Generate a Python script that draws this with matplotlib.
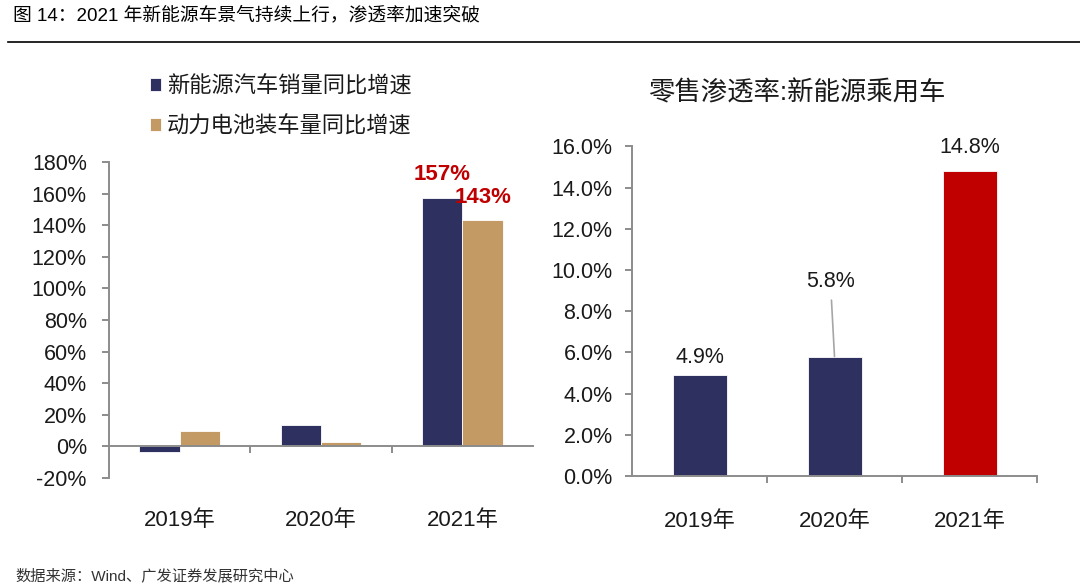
import matplotlib
matplotlib.use("Agg")
import matplotlib.pyplot as plt
from matplotlib.ticker import FixedLocator, FuncFormatter
import numpy as np

plt.rcParams['font.family'] = ['Liberation Sans', 'Noto Sans CJK SC', 'DejaVu Sans']

# ---------------- data ----------------
years = ['2019年', '2020年', '2021年']
nev_sales_yoy = [-3.8, 13.3, 157.0]        # 新能源汽车销量同比增速 (%)
battery_yoy = [9.5, 3.0, 143.0]            # 动力电池装车量同比增速 (%)
left_labels = ['157%', '143%']
penetration = [4.9, 5.8, 14.8]              # 零售渗透率 (%)
pen_labels = ['4.9%', '5.8%', '14.8%']
left_yticks = [-20, 0, 20, 40, 60, 80, 100, 120, 140, 160, 180]
right_yticks = [0, 2, 4, 6, 8, 10, 12, 14, 16]

NAVY = '#2E3160'
TAN = '#C49A64'
RED = '#C00000'
GRAY = '#8C8C8C'
TXT = '#1A1A1A'

fig = plt.figure(figsize=(10.8, 5.84), dpi=100)

# header
fig.text(13/1080, 1 - 15/584, '图 14：2021 年新能源车景气持续上行，渗透率加速突破',
         fontsize=13.5, color='black', va='center', ha='left')
fig.add_artist(plt.Line2D([8/1080, 1.0], [1 - 42/584, 1 - 42/584], color='black', lw=1.2))
fig.text(15/1080, 1 - 576/584, '数据来源：Wind、广发证券发展研究中心',
         fontsize=11, color='#333333', va='center', ha='left')

# ---------------- left chart ----------------
ax1 = fig.add_axes([109/1080, 106/584, 424/1080, 316/584])
x = np.arange(len(years))
bw = 0.285
ax1.bar(x - bw/2, nev_sales_yoy, bw, color=NAVY, edgecolor='white', linewidth=0.6,
        label='新能源汽车销量同比增速')
ax1.bar(x + bw/2, battery_yoy, bw, color=TAN, edgecolor='white', linewidth=0.6,
        label='动力电池装车量同比增速')
ax1.set_xlim(-0.5, 2.5)
ax1.set_ylim(-20, 180)
ax1.yaxis.set_major_locator(FixedLocator(left_yticks))
ax1.yaxis.set_major_formatter(FuncFormatter(lambda v, p: f'{v:.0f}%'))
for s in ['top', 'right']:
    ax1.spines[s].set_visible(False)
ax1.spines['left'].set_color(GRAY)
ax1.spines['left'].set_linewidth(1.4)
ax1.spines['bottom'].set_position(('data', 0))
ax1.spines['bottom'].set_color(GRAY)
ax1.spines['bottom'].set_linewidth(1.4)
ax1.set_xticks(x)
ax1.set_xticklabels(years)
ax1.set_xticks([0.5, 1.5], minor=True)
ax1.tick_params(axis='x', which='major', length=0, pad=46, labelsize=16, labelcolor=TXT)
ax1.tick_params(axis='x', which='minor', length=5, width=1.4, color=GRAY, direction='out')
ax1.tick_params(axis='y', length=5, width=1.4, color=GRAY, labelsize=15.5, labelcolor=TXT, pad=11)
ax1.text(1.86, 172, left_labels[0], color=RED, fontsize=16, fontweight='bold', ha='center', va='center')
ax1.text(2.15, 157.5, left_labels[1], color=RED, fontsize=16, fontweight='bold', ha='center', va='center')

leg = fig.legend(handles=ax1.containers, labels=['新能源汽车销量同比增速', '动力电池装车量同比增速'],
                 loc='upper left', bbox_to_anchor=(130/1080, 1 - 56/584), frameon=False,
                 fontsize=16, handlelength=0.5, handleheight=0.5, handletextpad=0.25,
                 labelspacing=0.85, labelcolor=TXT)

# ---------------- right chart ----------------
ax2 = fig.add_axes([632/1080, 108/584, 405/1080, 329.6/584])
colors = [NAVY, NAVY, RED]
ax2.bar(x, penetration, 0.4, color=colors, edgecolor='white', linewidth=0.6)
ax2.set_xlim(-0.5, 2.5)
ax2.set_ylim(0, 16)
ax2.yaxis.set_major_locator(FixedLocator(right_yticks))
ax2.yaxis.set_major_formatter(FuncFormatter(lambda v, p: f'{v:.1f}%'))
for s in ['top', 'right']:
    ax2.spines[s].set_visible(False)
for s in ['left', 'bottom']:
    ax2.spines[s].set_color(GRAY)
    ax2.spines[s].set_linewidth(1.4)
ax2.set_xticks(x)
ax2.set_xticklabels(years)
ax2.set_xticks([0.5, 1.5, 2.5], minor=True)
ax2.tick_params(axis='x', which='major', length=0, pad=25, labelsize=16, labelcolor=TXT)
ax2.tick_params(axis='x', which='minor', length=5, width=1.4, color=GRAY, direction='out')
ax2.tick_params(axis='y', length=5, width=1.4, color=GRAY, labelsize=15.5, labelcolor=TXT, pad=9)

ax2.text(0, 5.73, pen_labels[0], fontsize=15.5, color=TXT, ha='center', va='center')
ax2.annotate(pen_labels[1], xy=(1.0, penetration[1]), xytext=(0.97, 9.45),
             fontsize=15.5, color=TXT, ha='center', va='center',
             arrowprops=dict(arrowstyle='-', color='#A6A6A6', lw=1.2, shrinkA=4, shrinkB=0))
ax2.text(2, 15.97, pen_labels[2], fontsize=15.5, color=TXT, ha='center', va='center')

fig.text(797/1080, 1 - 93/584, '零售渗透率:新能源乘用车', fontsize=19, color=TXT,
         ha='center', va='center')

fig.savefig('out.png', dpi=100)
